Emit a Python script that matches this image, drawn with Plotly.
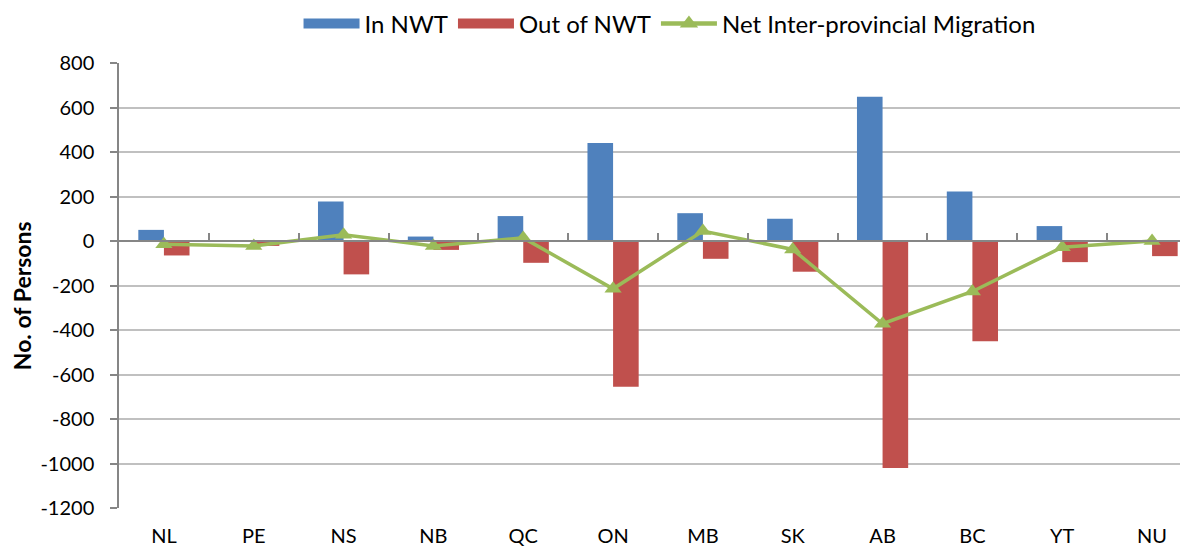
import plotly.graph_objects as go

categories = ["NL", "PE", "NS", "NB", "QC", "ON", "MB", "SK", "AB", "BC", "YT", "NU"]
in_nwt = [50, 0, 178, 20, 112, 440, 125, 100, 648, 223, 67, 0]
out_nwt = [-65, -22, -150, -40, -98, -655, -80, -138, -1020, -450, -95, -68]
net_migration = [-15, -22, 28, -22, 14, -215, 45, -38, -372, -227, -28, 0]
y_ticks = [800, 600, 400, 200, 0, -200, -400, -600, -800, -1000, -1200]

FONT = "Lato"
BLUE = "#4F81BD"
RED = "#C0504D"
GREEN = "#9BBB59"

fig = go.Figure()
fig.add_trace(go.Bar(x=categories, y=in_nwt, name="In NWT", showlegend=False,
                     marker=dict(color=BLUE, line=dict(width=0))))
fig.add_trace(go.Bar(x=categories, y=out_nwt, name="Out of NWT", showlegend=False,
                     marker=dict(color=RED, line=dict(width=0))))
fig.add_trace(go.Scatter(x=categories, y=net_migration, name="Net Inter-provincial Migration",
                         mode="lines+markers", showlegend=False,
                         line=dict(color=GREEN, width=3.5),
                         marker=dict(symbol="triangle-up", size=15, color=GREEN)))

# legend entries (wide swatches like the reference)
fig.add_trace(go.Scatter(x=[None], y=[None], mode="lines", name="In NWT",
                         line=dict(color=BLUE, width=15), hoverinfo="skip"))
fig.add_trace(go.Scatter(x=[None], y=[None], mode="lines", name="Out of NWT",
                         line=dict(color=RED, width=15), hoverinfo="skip"))
fig.add_trace(go.Scatter(x=[None], y=[None], mode="lines+markers", name="Net Inter-provincial Migration",
                         line=dict(color=GREEN, width=4.5),
                         marker=dict(symbol="triangle-up", size=16, color=GREEN), hoverinfo="skip"))

n = len(categories)
ymin, ymax = y_ticks[-1], y_ticks[0]
zero_pos = (0 - ymin) / (ymax - ymin)

fig.update_layout(
    width=1180, height=540,
    margin=dict(l=111, r=0, t=55, b=40, autoexpand=False),
    paper_bgcolor="white", plot_bgcolor="white",
    font=dict(family=FONT, size=20, color="#000000"),
    barmode="group", bargap=0.43, bargroupgap=0,
    showlegend=True,
    legend=dict(orientation="h", x=0.515, xanchor="center", y=1.0876, yanchor="middle",
                font=dict(family=FONT, size=24), itemwidth=56, traceorder="normal",
                bgcolor="rgba(0,0,0,0)", tracegroupgap=0),
    xaxis=dict(type="category", range=[-0.5, n - 0.6], showgrid=False, zeroline=False,
               showline=False, ticks="outside", ticklen=10, tickcolor="rgba(0,0,0,0)",
               tickfont=dict(family=FONT, size=20)),
    xaxis2=dict(overlaying="x", anchor="free", position=zero_pos, type="linear",
                range=[-0.5, n - 0.6], showgrid=False, zeroline=False,
                showline=True, linecolor="#868686", linewidth=2,
                tickmode="array", tickvals=[i + 0.5 for i in range(n - 1)],
                ticks="inside", ticklen=7, tickwidth=1.5, tickcolor="#868686",
                showticklabels=False, layer="above traces"),
    yaxis=dict(range=[ymin, ymax], tickmode="array", tickvals=y_ticks,
               ticktext=[str(v) for v in y_ticks],
               showgrid=True, gridcolor="#C0C0C0", gridwidth=1.5,
               zeroline=False, showline=True, linecolor="#868686", linewidth=1.5,
               ticks="outside", ticklen=7, tickwidth=1.5, tickcolor="#868686",
               ticklabelstandoff=12,
               tickfont=dict(family=FONT, size=20)),
    annotations=[dict(text="<b>No. of Persons</b>", xref="paper", yref="paper",
                      x=-0.0907, y=0.476, xanchor="center", yanchor="middle",
                      textangle=-90, showarrow=False,
                      font=dict(family=FONT, size=23, color="#000000"))],
)

fig.add_trace(go.Scatter(x=[None], y=[None], xaxis="x2", showlegend=False, hoverinfo="skip"))

fig.write_html("out.html")
